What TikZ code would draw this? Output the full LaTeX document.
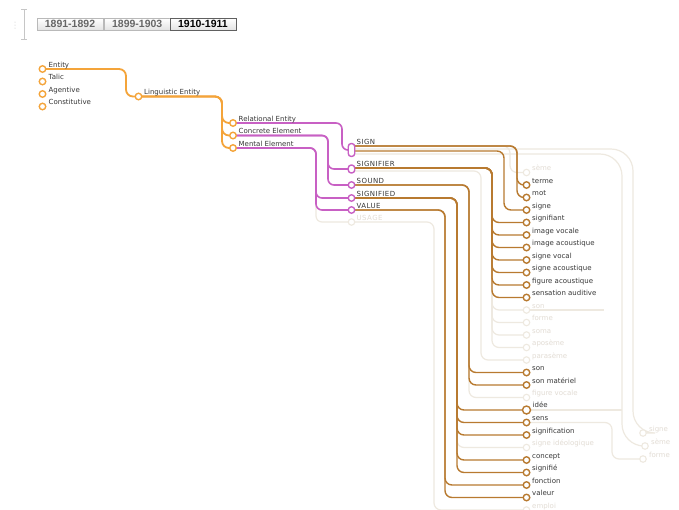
\documentclass[tikz,border=0pt]{standalone}
\usepackage{fontspec}
\setmainfont{DejaVu Sans}
\newfontfamily\btnfont{Liberation Sans}
\usetikzlibrary{calc}
\definecolor{orng}{RGB}{244,164,58}
\definecolor{pnk}{RGB}{200,96,196}
\definecolor{brn}{RGB}{184,122,48}
\definecolor{fade}{RGB}{238,233,224}
\definecolor{fadetext}{RGB}{226,220,212}
\definecolor{lbl}{RGB}{55,55,55}
\pgfdeclarelayer{base}
\pgfdeclarelayer{bg}
\pgfsetlayers{base,bg,main}
\tikzset{
  orangeln/.style={draw=orng,line width=1.8pt,rounded corners=7pt},
  pinkln/.style={draw=pnk,line width=1.6pt,rounded corners=6pt},
  fpinkln/.style={draw=fade,line width=1.2pt,rounded corners=6pt},
  brownln/.style={draw=brn,line width=1.4pt,rounded corners=7pt},
  fadeln/.style={draw=fade,line width=1.2pt,rounded corners=7pt},
  bigfade/.style={draw=fade,line width=1.2pt,rounded corners=22pt},
  dot/.style={circle,fill=white,line width=1.4pt,minimum size=6.5pt,inner sep=0pt},
  odot/.style={dot,draw=orng},
  pdot/.style={dot,draw=pnk},
  bdot/.style={dot,draw=brn},
  fdot/.style={dot,draw=fade,line width=1.1pt},
  pill/.style={draw=pnk,fill=white,line width=1.4pt,rounded corners=3pt,minimum width=6.5pt,inner sep=0pt},
  lab/.style={anchor=base west,inner sep=0pt,font=\fontsize{7}{8}\selectfont,text=lbl},
  flab/.style={lab,text=fadetext},
  caplab/.style={anchor=base west,inner sep=0pt,text=lbl,font=\fontsize{7}{8}\selectfont\addfontfeature{LetterSpace=6}},
  fcaplab/.style={caplab,text=fadetext},
  btn/.style={draw=gray!55,line width=0.8pt,top color=white,bottom color=gray!22,minimum width=66pt,minimum height=11.7pt,inner sep=0pt,font=\btnfont\bfseries\fontsize{10.5}{12}\selectfont,text=gray!80!black},
}
\begin{document}
\begin{tikzpicture}[x=1pt,y=-1pt]
\clip (0,0) rectangle (679,509);
\begin{pgfonlayer}{base}
  \fill[white] (0,0) rectangle (679,509);
\end{pgfonlayer}

% ---- period selector ----
\draw[gray!45,line width=0.6pt] (21,9) -- (27,9) (21,39) -- (27,39);
\draw[gray!45,line width=0.6pt] (24,9) -- (24,39);
\foreach \yy in {22,25,28} \fill[gray!45] (15,\yy) circle (0.5);
\node[btn] (b1) at (70,24.2) {1891-1892};
\node[btn] (b2) at (137.2,24.2) {1899-1903};
\node[btn,draw=gray!75!black,text=black] (b3) at (202.9,24.2) {1910-1911};

% ---- column positions of the vertical runs ----
\coordinate (cLing) at (126,0);
\coordinate (cMid)  at (222,0);
\coordinate (cRel)  at (342,0);
\coordinate (cConc) at (328,0);
\coordinate (cMent) at (316,0);
\coordinate (cT)  at (517,0);
\coordinate (cS)  at (504,0);
\coordinate (cSr) at (492,0);
\coordinate (cSr2) at (481,0);
\coordinate (cSo) at (469,0);
\coordinate (cSd) at (457,0);
\coordinate (cV)  at (445,0);
\coordinate (cU)  at (434,0);
\coordinate (cF1) at (633,0);
\coordinate (cF2) at (622,0);
\coordinate (cF3) at (612,0);

% ---- left hierarchy ----
\node[odot] (entity) at (42.5,69) {};
\node[odot] (talic) at (42.5,81.5) {};
\node[odot] (agent) at (42.5,94) {};
\node[odot] (constit) at (42.5,106.5) {};
\node[lab] (lentity) at ($(entity.center)+(6,-2)$) {Entity};
\node[lab] (ltalic) at ($(talic.center)+(6,-2)$) {Talic};
\node[lab] (lagent) at ($(agent.center)+(6,-2)$) {Agentive};
\node[lab] (lconstit) at ($(constit.center)+(6,-2)$) {Constitutive};

\node[odot] (ling) at (138.5,96.5) {};
\node[lab] (lling) at ($(ling.center)+(5.5,-2)$) {Linguistic Entity};

\node[odot] (rel) at (233,123) {};
\node[odot] (conc) at (233,135.5) {};
\node[odot] (ment) at (233,148) {};
\node[lab] (lrel) at ($(rel.center)+(5.5,-2)$) {Relational Entity};
\node[lab] (lconc) at ($(conc.center)+(5.5,-2)$) {Concrete Element};
\node[lab] (lment) at ($(ment.center)+(5.5,-2)$) {Mental Element};

% ---- concepts ----
\node[pill,minimum height=13pt] (sign) at (351.5,150) {};
\node[pill,minimum height=8pt] (signifier) at (351.5,169) {};
\node[pdot] (sound) at (351.5,185) {};
\node[pdot] (signified) at (351.5,198) {};
\node[pdot] (value) at (351.5,210) {};
\node[fdot] (usage) at (351.5,222) {};
\node[caplab] (lsign) at (356.5,144) {SIGN};
\node[caplab] (lsignifier) at ($(signifier.center)+(5,-3)$) {SIGNIFIER};
\node[caplab] (lsound) at ($(sound.center)+(5,-2)$) {SOUND};
\node[caplab] (lsignified) at ($(signified.center)+(5,-2)$) {SIGNIFIED};
\node[caplab] (lvalue) at ($(value.center)+(5,-2)$) {VALUE};
\node[fcaplab] (lusage) at ($(usage.center)+(5,-2)$) {USAGE};

% ---- terms ----
\foreach \i/\t in {0/terme,1/mot,2/signe,3/signifiant,4/image vocale,5/image acoustique,6/signe vocal,7/signe acoustique,8/figure acoustique,9/sensation auditive,15/son,16/son matériel,19/sens,20/signification,22/concept,23/signifié,24/fonction,25/valeur}{
  \node[bdot] (r\i) at (526.5,185+12.5*\i) {};
  \node[lab] (l\i) at ($(r\i.center)+(5.5,-1.8)$) {\t};
}
\node[bdot,minimum size=8pt] (r18) at (526.5,410) {};
\node[lab] (l18) at ($(r18.center)+(6,-2.4)$) {idée};
\foreach \i/\t in {-1/sème,10/son,11/forme,12/soma,13/aposème,14/parasème,17/figure vocale,21/signe idéologique,26/emploi}{
  \node[fdot] (r\i) at (526.5,185+12.5*\i) {};
  \node[flab] (l\i) at ($(r\i.center)+(5.5,-1.8)$) {\t};
}
\node[fdot] (x1) at (643,433) {};
\node[fdot] (x2) at (645,446) {};
\node[fdot] (x3) at (643,459) {};
\node[flab] (lx1) at ($(x1.center)+(6,-1.8)$) {signe};
\node[flab] (lx2) at ($(x2.center)+(6,-1.8)$) {sème};
\node[flab] (lx3) at ($(x3.center)+(6,-1.8)$) {forme};

% ---- connectors ----
\begin{pgfonlayer}{bg}
  % faded routes
  \draw[bigfade] ($(sign.center)+(0,-1)$) -| (cF1 |- x1.center) -- (x1.center);
  \draw[bigfade] ($(sign.center)+(0,4)$) -| (cF2 |- x2.center) -- (x2.center);
  \draw[fadeln] (r19.center) -| (cF3 |- x3.center) -- (x3.center);
  \draw[fadeln] (r18.center) -- (cF2 |- r18.center);
  \draw[fadeln] (r10.center) -- ($(cF3 |- r10.center)+(-8,0)$);
  \draw[fadeln] ($(sign.center)+(0,-4)$) -| ($(cT |- r-1.center)+(-7,0)$) -- (r-1.center);
  \foreach \i in {10,...,13}
    \draw[fadeln] ($(signifier.center)+(0,-1)$) -| (cSr |- r\i.center) -- (r\i.center);
  \draw[fadeln] ($(signifier.center)+(0,2)$) -| (cSr2 |- r14.center) -- (r14.center);
  \draw[fadeln] (sound.center) -| (cSo |- r17.center) -- (r17.center);
  \draw[fadeln] (signified.center) -| (cSd |- r21.center) -- (r21.center);
  \draw[fadeln] (usage.center) -| (cU |- r26.center) -- (r26.center);
  \draw[fpinkln] (ment.center) -| (cMent |- usage.center) -- (usage.center);

  % brown routes
  \foreach \i in {0,1}
    \draw[brownln] ($(sign.center)+(0,-4)$) -| (cT |- r\i.center) -- (r\i.center);
  \draw[brownln] ($(sign.center)+(0,1)$) -| (cS |- r2.center) -- (r2.center);
  \foreach \i in {3,...,9}
    \draw[brownln] ($(signifier.center)+(0,-1)$) -| (cSr |- r\i.center) -- (r\i.center);
  \foreach \i in {15,16}
    \draw[brownln] (sound.center) -| (cSo |- r\i.center) -- (r\i.center);
  \foreach \i in {18,19,20,22,23}
    \draw[brownln] (signified.center) -| (cSd |- r\i.center) -- (r\i.center);
  \foreach \i in {24,25}
    \draw[brownln] (value.center) -| (cV |- r\i.center) -- (r\i.center);

  % pink routes
  \draw[pinkln] (rel.center) -| (cRel |- sign.center) -- (sign.center);
  \draw[pinkln] (conc.center) -| (cConc |- signifier.center) -- (signifier.center);
  \draw[pinkln] (conc.center) -| (cConc |- sound.center) -- (sound.center);
  \draw[pinkln] (ment.center) -| (cMent |- signified.center) -- (signified.center);
  \draw[pinkln] (ment.center) -| (cMent |- value.center) -- (value.center);

  % orange routes
  \draw[orangeln] (entity.center) -| (cLing |- ling.center) -- (ling.center);
  \foreach \n in {rel,conc,ment}
    \draw[orangeln] (ling.center) -| (cMid |- \n.center) -- (\n.center);
\end{pgfonlayer}
\end{tikzpicture}
\end{document}
